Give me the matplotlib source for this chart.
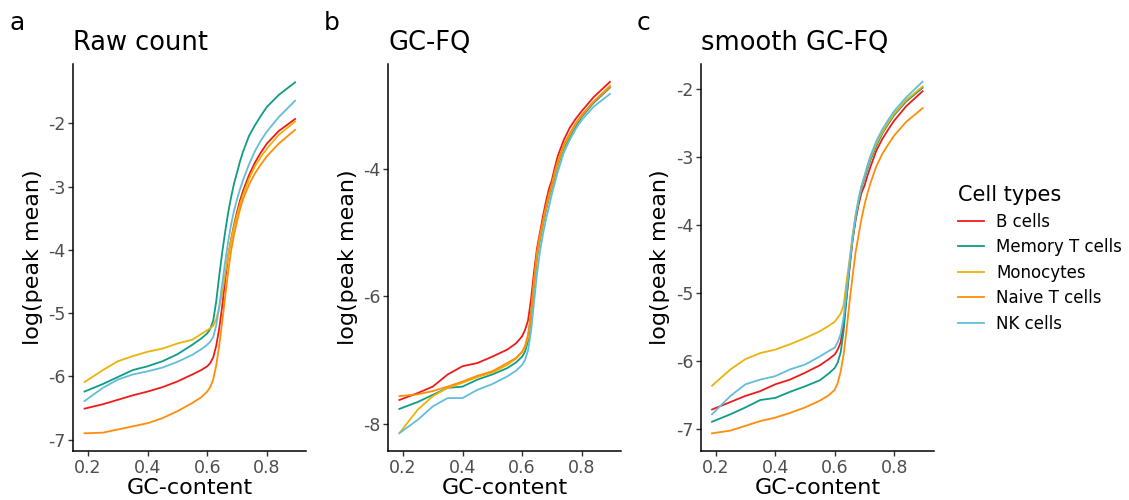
import numpy as np
import matplotlib
matplotlib.use("Agg")
import matplotlib.pyplot as plt

# GC-content grid shared by all curves
gc = [0.188, 0.25, 0.30, 0.35, 0.40, 0.45, 0.50, 0.55, 0.58, 0.60, 0.61, 0.62,
      0.63, 0.64, 0.65, 0.66, 0.67, 0.68, 0.69, 0.70, 0.71, 0.72, 0.74, 0.76,
      0.78, 0.80, 0.84, 0.895]

cell_types = ["B cells", "Memory T cells", "Monocytes", "Naive T cells", "NK cells"]
colors = ["#F01A1A", "#0E9C86", "#EBB30A", "#FF8C0A", "#62BDD9"]

# panel a: raw count
raw_b = [-6.51, -6.44, -6.37, -6.30, -6.24, -6.17, -6.08, -5.97, -5.90, -5.84, -5.79, -5.70,
         -5.52, -5.25, -4.90, -4.48, -4.10, -3.84, -3.60, -3.40, -3.22, -3.07, -2.82, -2.62,
         -2.46, -2.32, -2.12, -1.93]
raw_mem = [-6.24, -6.12, -6.01, -5.90, -5.84, -5.76, -5.65, -5.50, -5.40, -5.32, -5.25, -5.12,
           -4.82, -4.42, -4.05, -3.72, -3.42, -3.17, -2.95, -2.78, -2.60, -2.45, -2.20, -2.03,
           -1.88, -1.74, -1.55, -1.35]
raw_mono = [-6.09, -5.90, -5.76, -5.68, -5.61, -5.56, -5.48, -5.42, -5.33, -5.27, -5.24, -5.20,
            -5.10, -4.92, -4.68, -4.38, -4.10, -3.85, -3.63, -3.45, -3.28, -3.13, -2.88, -2.68,
            -2.53, -2.40, -2.18, -1.97]
raw_naive = [-6.90, -6.89, -6.84, -6.79, -6.74, -6.66, -6.55, -6.42, -6.33, -6.24, -6.17, -6.05,
             -5.83, -5.52, -5.15, -4.75, -4.35, -4.02, -3.76, -3.55, -3.36, -3.20, -2.97, -2.79,
             -2.65, -2.52, -2.32, -2.10]
raw_nk = [-6.39, -6.18, -6.05, -5.97, -5.92, -5.86, -5.77, -5.66, -5.57, -5.50, -5.45, -5.38,
          -5.20, -4.90, -4.55, -4.20, -3.88, -3.60, -3.38, -3.20, -3.04, -2.90, -2.65, -2.44,
          -2.27, -2.13, -1.90, -1.64]

# panel b: GC-FQ
fq_b = [-7.63, -7.52, -7.42, -7.23, -7.10, -7.05, -6.95, -6.84, -6.74, -6.63, -6.53, -6.38,
        -6.05, -5.62, -5.25, -5.00, -4.75, -4.52, -4.32, -4.18, -3.98, -3.80, -3.55, -3.36,
        -3.22, -3.10, -2.88, -2.64]
fq_mem = [-7.77, -7.66, -7.55, -7.44, -7.42, -7.31, -7.23, -7.13, -7.04, -6.95, -6.87, -6.70,
          -6.35, -5.85, -5.40, -5.12, -4.88, -4.66, -4.46, -4.30, -4.12, -3.95, -3.68, -3.50,
          -3.33, -3.19, -2.97, -2.73]
fq_mono = [-8.15, -7.78, -7.57, -7.44, -7.36, -7.27, -7.20, -7.08, -6.98, -6.88, -6.80, -6.65,
           -6.30, -5.80, -5.35, -5.08, -4.85, -4.63, -4.43, -4.27, -4.09, -3.92, -3.65, -3.47,
           -3.30, -3.17, -2.95, -2.70]
fq_naive = [-7.57, -7.54, -7.49, -7.42, -7.34, -7.25, -7.18, -7.05, -6.97, -6.87, -6.78, -6.60,
            -6.25, -5.75, -5.32, -5.05, -4.82, -4.60, -4.40, -4.24, -4.05, -3.88, -3.62, -3.45,
            -3.29, -3.16, -2.95, -2.72]
fq_nk = [-8.15, -7.94, -7.73, -7.60, -7.60, -7.47, -7.38, -7.26, -7.17, -7.08, -7.00, -6.85,
         -6.55, -6.10, -5.65, -5.30, -5.03, -4.80, -4.60, -4.40, -4.22, -4.05, -3.75, -3.55,
         -3.38, -3.24, -3.03, -2.83]

# panel c: smooth GC-FQ
sm_b = [-6.71, -6.60, -6.51, -6.44, -6.34, -6.27, -6.17, -6.06, -5.97, -5.90, -5.83, -5.72,
        -5.45, -5.05, -4.62, -4.22, -3.93, -3.70, -3.52, -3.42, -3.27, -3.14, -2.90, -2.73,
        -2.59, -2.46, -2.25, -2.03]
sm_mem = [-6.89, -6.78, -6.68, -6.57, -6.54, -6.45, -6.37, -6.28, -6.18, -6.10, -6.02, -5.87,
          -5.55, -5.05, -4.60, -4.20, -3.90, -3.65, -3.46, -3.31, -3.17, -3.04, -2.83, -2.65,
          -2.51, -2.38, -2.18, -1.98]
sm_mono = [-6.36, -6.12, -5.97, -5.88, -5.83, -5.75, -5.66, -5.56, -5.48, -5.42, -5.36, -5.30,
           -5.17, -4.82, -4.50, -4.15, -3.85, -3.62, -3.43, -3.28, -3.14, -3.01, -2.80, -2.63,
           -2.49, -2.36, -2.16, -1.96]
sm_naive = [-7.06, -7.02, -6.95, -6.88, -6.83, -6.76, -6.68, -6.58, -6.50, -6.42, -6.32, -6.15,
            -5.90, -5.53, -5.12, -4.75, -4.40, -4.15, -3.90, -3.70, -3.53, -3.38, -3.13, -2.95,
            -2.81, -2.68, -2.48, -2.28]
sm_nk = [-6.78, -6.51, -6.34, -6.27, -6.22, -6.12, -6.05, -5.93, -5.85, -5.80, -5.72, -5.60,
         -5.35, -4.96, -4.55, -4.18, -3.87, -3.62, -3.42, -3.28, -3.12, -2.98, -2.76, -2.59,
         -2.45, -2.32, -2.12, -1.89]

panels = [
    ("a", "Raw count", [raw_b, raw_mem, raw_mono, raw_naive, raw_nk], (-7.18, -1.06), [-7, -6, -5, -4, -3, -2]),
    ("b", "GC-FQ", [fq_b, fq_mem, fq_mono, fq_naive, fq_nk], (-8.43, -2.36), [-8, -6, -4]),
    ("c", "smooth GC-FQ", [sm_b, sm_mem, sm_mono, sm_naive, sm_nk], (-7.32, -1.63), [-7, -6, -5, -4, -3, -2]),
]

fig = plt.figure(figsize=(11.29, 5), dpi=100)
lefts = [0.0651, 0.3440, 0.6209]
tick_grey = "#4D4D4D"

for left, (letter, title, series, ylim, yticks) in zip(lefts, panels):
    ax = fig.add_axes([left, 0.098, 0.2063, 0.774])
    for name, vals, col in zip(cell_types, series, colors):
        ax.plot(gc, vals, color=col, lw=1.3, label=name)
    ax.set_xlim(0.151, 0.933)
    ax.set_ylim(*ylim)
    ax.set_xticks([0.2, 0.4, 0.6, 0.8])
    ax.set_xticklabels(["0.2", "0.4", "0.6", "0.8"])
    ax.set_yticks(yticks)
    ax.set_yticklabels([str(t) for t in yticks])
    for side in ["top", "right"]:
        ax.spines[side].set_visible(False)
    for side in ["left", "bottom"]:
        ax.spines[side].set_linewidth(1.1)
    ax.tick_params(length=3.5, width=1.0, color="#333333", labelsize=12.5,
                   labelcolor=tick_grey, pad=2)
    ax.set_xlabel("GC-content", fontsize=16, labelpad=1)
    ax.set_ylabel("log(peak mean)", fontsize=16, labelpad=4)
    ax.set_title(title, fontsize=18.5, loc="left", pad=10)
    fig.text(left - 0.057, 0.955, letter, fontsize=18, va="center", ha="left")

handles, labels = ax.get_legend_handles_labels()
leg = fig.legend(handles, labels, title="Cell types", loc="center left",
                 bbox_to_anchor=(0.835, 0.482), frameon=False, fontsize=12,
                 title_fontsize=15, handlelength=1.6, handletextpad=0.7,
                 labelspacing=0.45)
leg._legend_box.align = "left"

fig.savefig("out.png", dpi=100)
